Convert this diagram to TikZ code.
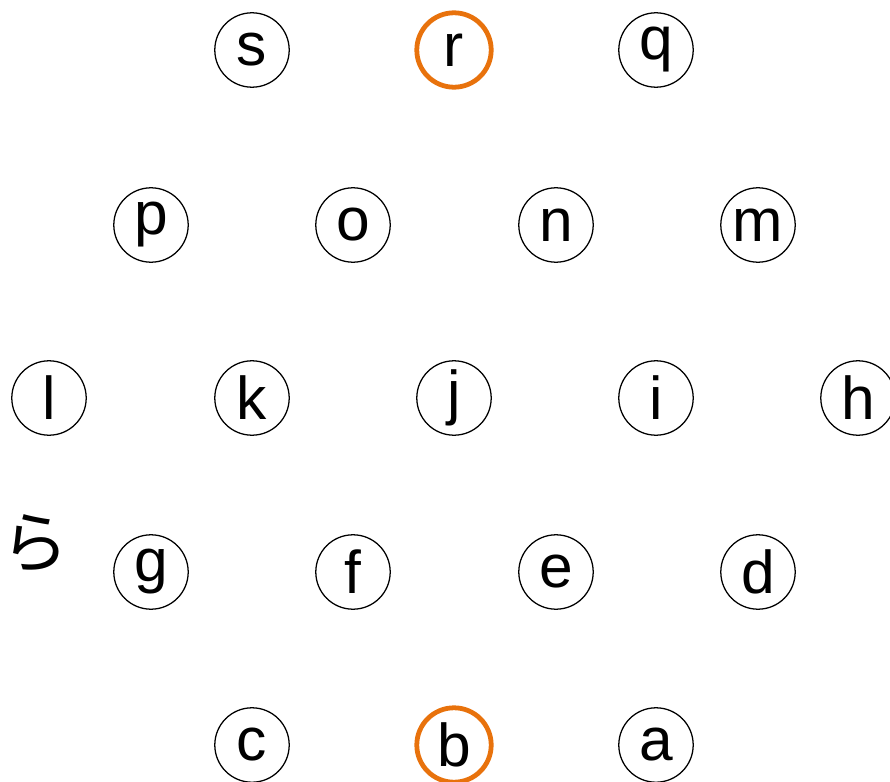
\documentclass[tikz,border=0pt]{standalone}
\usepackage{fontspec}
\setmainfont{Liberation Sans}
\newfontfamily\jpfont{Noto Sans CJK JP}
\usepackage{xcolor}
\definecolor{pickorange}{HTML}{E8720C}

\begin{document}
\begin{tikzpicture}[x=0.025cm, y=-0.025cm,
    letter/.style={circle, draw, line width=0.9pt, minimum size=1.86cm, inner sep=0pt, font=\fontsize{43}{50}\selectfont},
    picked/.style={letter, draw=pickorange, line width=3.4pt}]
  \useasboundingbox (0,0) rectangle (890,782);
  \clip (0,0) rectangle (890,782);

  % Top row
  \node[letter] (s) at (252, 50) {s};
  \node[picked] (r) at (454, 50) {r};
  \node[letter] (q) at (656, 50) {q};

  % Second row
  \node[letter] (p) at (151, 225) {p};
  \node[letter] (o) at (353, 225) {o};
  \node[letter] (n) at (556, 225) {n};
  \node[letter] (m) at (758, 225) {m};

  % Middle row
  \node[letter] (l) at (49, 398) {l};
  \node[letter] (k) at (252, 398) {k};
  \node[letter] (j) at (454, 398) {j};
  \node[letter] (i) at (656, 398) {i};
  \node[letter] (h) at (858, 398) {h};

  % Fourth row
  \node[letter] (g) at (151, 572) {g};
  \node[letter] (f) at (353, 572) {f};
  \node[letter] (e) at (556, 572) {e};
  \node[letter] (d) at (758, 572) {d};

  % Bottom row
  \node[letter] (c) at (252, 745) {c};
  \node[picked] (b) at (454, 745) {b};
  \node[letter] (a) at (656, 745) {a};

  % Cut-off caption on the left
  \node[anchor=east, inner sep=0pt, font=\jpfont\fontsize{48}{56}\selectfont] (from) at (69, 543) {から};
\end{tikzpicture}
\end{document}
